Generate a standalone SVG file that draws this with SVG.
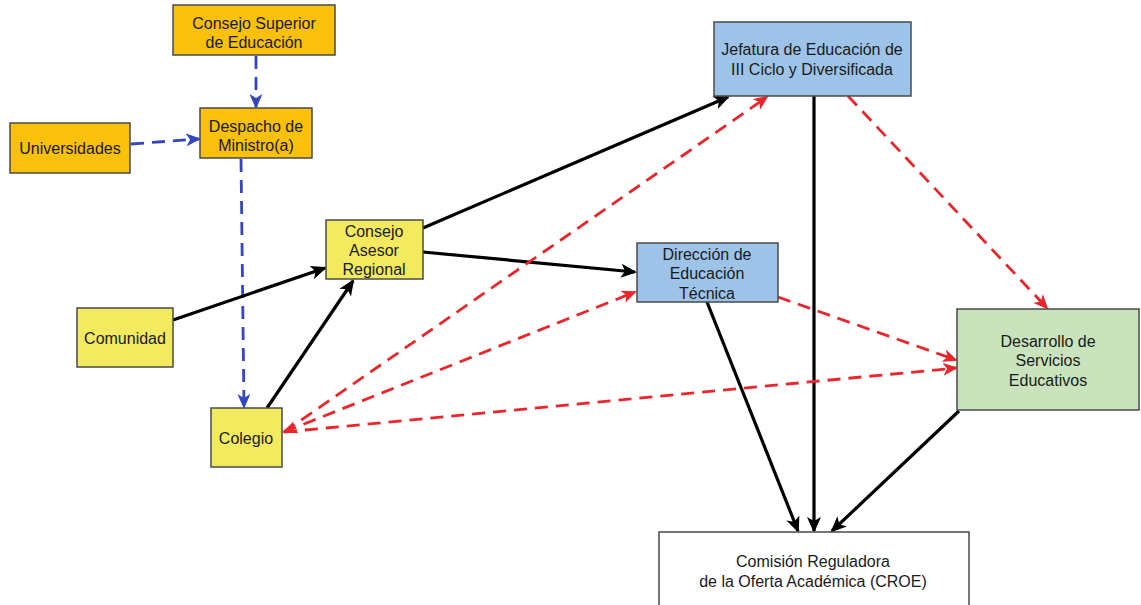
<svg xmlns="http://www.w3.org/2000/svg" width="1141" height="605" viewBox="0 0 1141 605">
<style>
.box{stroke:#4a4a4a;stroke-width:1.5}
.org{fill:#F9C00C}
.yel{fill:#F3EA5F}
.blu{fill:#9DC4E8}
.grn{fill:#C9E3BC}
.wht{fill:#ffffff}
text{font-family:"Liberation Sans",Arial,sans-serif;font-size:16px;fill:#1a1a1a;text-anchor:middle}
.blk{stroke:#000;stroke-width:3.2;fill:none}
.bd{stroke:#3446C0;stroke-width:2.8;fill:none;stroke-dasharray:13 8}
.rd{stroke:#E8262B;stroke-width:2.8;fill:none;stroke-dasharray:13 8}
</style>
<defs>
<marker id="ab" markerUnits="userSpaceOnUse" markerWidth="16" markerHeight="14" refX="14" refY="7" orient="auto"><path d="M0,0 L16,7 L0,14 L4,7 z" fill="#000"/></marker>
<marker id="abl" markerUnits="userSpaceOnUse" markerWidth="15" markerHeight="13" refX="13" refY="6.5" orient="auto"><path d="M0,0 L15,6.5 L0,13 L4,6.5 z" fill="#3446C0"/></marker>
<marker id="ar" markerUnits="userSpaceOnUse" markerWidth="15" markerHeight="13" refX="13" refY="6.5" orient="auto"><path d="M0,0 L15,6.5 L0,13 L4,6.5 z" fill="#E8262B"/></marker>
<marker id="ars" markerUnits="userSpaceOnUse" markerWidth="15" markerHeight="13" refX="2" refY="6.5" orient="auto"><path d="M15,0 L0,6.5 L15,13 L11,6.5 z" fill="#E8262B"/></marker>
</defs>
<rect width="1141" height="605" fill="#fff"/>
<g id="connectors">
<line class="bd" x1="256" y1="56" x2="256" y2="107" marker-end="url(#abl)"/>
<line class="bd" x1="131" y1="144" x2="199" y2="139" marker-end="url(#abl)"/>
<line class="bd" x1="241" y1="159" x2="244" y2="407" marker-end="url(#abl)"/>
<line class="blk" x1="173" y1="320" x2="325" y2="268" marker-end="url(#ab)"/>
<line class="blk" x1="267" y1="408" x2="353" y2="281" marker-end="url(#ab)"/>
<line class="blk" x1="423" y1="228" x2="728" y2="97" marker-end="url(#ab)"/>
<line class="blk" x1="423" y1="252" x2="635" y2="272" marker-end="url(#ab)"/>
<line class="blk" x1="814" y1="96" x2="814" y2="531" marker-end="url(#ab)"/>
<line class="blk" x1="707" y1="302" x2="798" y2="531" marker-end="url(#ab)"/>
<line class="blk" x1="959" y1="411" x2="832" y2="531" marker-end="url(#ab)"/>
<line class="rd" x1="284" y1="432" x2="767" y2="97" marker-end="url(#ar)"/>
<line class="rd" x1="284" y1="432" x2="635" y2="292" marker-start="url(#ars)" marker-end="url(#ar)"/>
<line class="rd" x1="284" y1="432" x2="956" y2="368" marker-end="url(#ar)"/>
<line class="rd" x1="848" y1="96" x2="1047" y2="308" marker-end="url(#ar)"/>
<line class="rd" x1="778" y1="297" x2="956" y2="360" marker-end="url(#ar)"/>
</g>
<g id="consejo-superior"><rect class="box org" x="173" y="5" width="162" height="50"/><text x="254" y="29">Consejo Superior</text><text x="254" y="48">de Educación</text></g>
<g id="despacho"><rect class="box org" x="200" y="108" width="112" height="50"/><text x="256" y="132">Despacho de</text><text x="256" y="151">Ministro(a)</text></g>
<g id="universidades"><rect class="box org" x="10" y="123" width="120" height="50"/><text x="70" y="154">Universidades</text></g>
<g id="comunidad"><rect class="box yel" x="77" y="308" width="96" height="59"/><text x="125" y="344">Comunidad</text></g>
<g id="colegio"><rect class="box yel" x="211" y="408" width="71" height="59"/><text x="246" y="444">Colegio</text></g>
<g id="consejo-asesor"><rect class="box yel" x="326" y="220" width="97" height="59"/><text x="374" y="237">Consejo</text><text x="374" y="256">Asesor</text><text x="374" y="275">Regional</text></g>
<g id="jefatura"><rect class="box blu" x="714" y="22" width="197" height="74"/><text x="812" y="55">Jefatura de Educación de</text><text x="812" y="75">III Ciclo y Diversificada</text></g>
<g id="direccion"><rect class="box blu" x="637" y="243" width="141" height="59"/><text x="707" y="260">Dirección de</text><text x="707" y="279">Educación</text><text x="707" y="299">Técnica</text></g>
<g id="desarrollo"><rect class="box grn" x="957" y="309" width="182" height="101"/><text x="1048" y="347">Desarrollo de</text><text x="1048" y="366">Servicios</text><text x="1048" y="386">Educativos</text></g>
<g id="croe"><rect class="box wht" x="659" y="532" width="310" height="80"/><text x="813" y="567">Comisión Reguladora</text><text x="813" y="587">de la Oferta Académica (CROE)</text></g>
</svg>
